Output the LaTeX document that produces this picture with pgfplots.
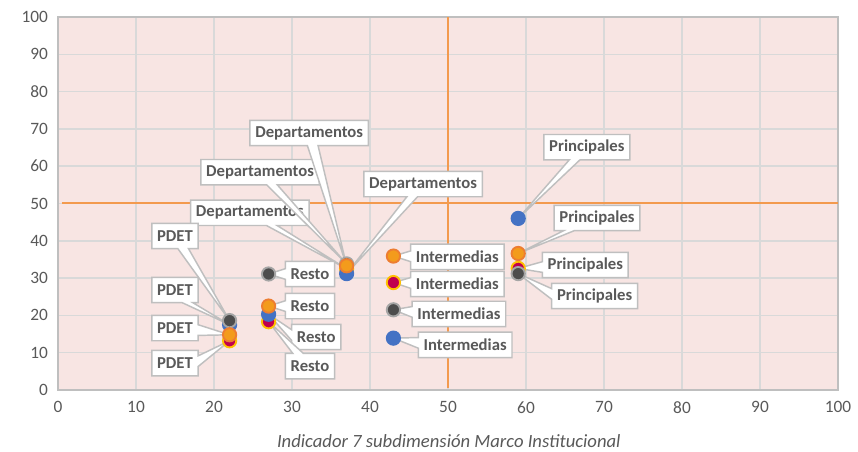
\documentclass[border=0pt]{standalone}
\usepackage{fontspec}
\setmainfont{Carlito}
\usepackage{pgfplots}
\pgfplotsset{compat=1.18}
\usetikzlibrary{shapes.callouts}
\definecolor{bgpink}{HTML}{F8E5E3}
\definecolor{gridgray}{HTML}{D9D9D9}
\definecolor{axgray}{HTML}{BFBFBF}
\definecolor{txtgray}{HTML}{595959}
\definecolor{refor}{HTML}{F39A4E}
\definecolor{sblue}{HTML}{4472C4}
\definecolor{sorange}{HTML}{F39B1C}
\definecolor{sorangeb}{HTML}{ED7D31}
\definecolor{sred}{HTML}{C0004E}
\definecolor{sredb}{HTML}{FFC000}
\definecolor{sgray}{HTML}{4D4D4D}
\definecolor{sgrayb}{HTML}{A5A5A5}
\begin{document}
\begin{tikzpicture}[
  lbl/.style={rectangle callout, draw=axgray, line width=1.1pt, fill=white,
    text=txtgray, font=\fontsize{12.5}{14}\selectfont\bfseries,
    inner xsep=4pt, inner ysep=3pt, minimum height=19pt,
    callout pointer width=8pt}
]
\begin{axis}[
  scale only axis, width=585pt, height=279.75pt,
  xmin=0, xmax=100, ymin=0, ymax=100,
  xtick={0,10,...,100}, ytick={0,10,...,100},
  grid=major,
  major grid style={color=gridgray, line width=1.1pt},
  axis line style={color=axgray, line width=1.3pt},
  tick style={draw=none},
  axis background/.style={fill=bgpink},
  ticklabel style={font=\fontsize{13}{15}\selectfont, text=txtgray},
  xticklabel style={yshift=-5pt},
  yticklabel style={xshift=-4pt},
  /pgf/number format/assume math mode=true,
  xlabel={Indicador 7 subdimensión Marco Institucional},
  xlabel style={at={(axis description cs:0.501,0)}, anchor=center, yshift=-38pt,
    font=\fontsize{14}{16}\selectfont\itshape, text=txtgray},
  clip=false,
]
% reference lines
\addplot[refor, line width=1.5pt] coordinates {(0.5,50) (100,50)};
\addplot[refor, line width=1.5pt] coordinates {(50,0.5) (50,100)};

% series: PDET, Resto, Departamentos, Intermedias, Principales
\addplot[only marks, mark=*, mark size=5pt,
  mark options={fill=sred, draw=sredb, line width=1.4pt}]
  coordinates {(22,13.2) (27,18.3) (37,32.5) (43,28.8) (59,32.6)};
\addplot[only marks, mark=*, mark size=5pt,
  mark options={fill=sblue, draw=sblue, line width=1.4pt}]
  coordinates {(22,17.5) (27,20.3) (37,31.2) (43,13.9) (59,46.0)};
\addplot[only marks, mark=*, mark size=5pt,
  mark options={fill=sgray, draw=sgrayb, line width=1.4pt}]
  coordinates {(22,18.6) (27,31.1) (37,33.8) (43,21.5) (59,31.2)};
\addplot[only marks, mark=*, mark size=5pt,
  mark options={fill=sorange, draw=sorangeb, line width=1.4pt}]
  coordinates {(22,14.8) (27,22.5) (37,33.3) (43,35.9) (59,36.6)};

% data labels
\node[lbl, callout absolute pointer={(axis cs:37,32.5)}] at (axis cs:24.6,47.5) {Departamentos};
\node[lbl, callout absolute pointer={(axis cs:37,33.8)}] at (axis cs:25.9,58.4) {Departamentos};
\node[lbl, callout absolute pointer={(axis cs:37,33.3)}] at (axis cs:32.2,68.9) {Departamentos};
\node[lbl, callout absolute pointer={(axis cs:37,31.2)}] at (axis cs:46.8,55.2) {Departamentos};

\node[lbl, callout absolute pointer={(axis cs:22,18.6)}] at (axis cs:15,41.3) {PDET};
\node[lbl, callout absolute pointer={(axis cs:22,17.5)}] at (axis cs:15,26.8) {PDET};
\node[lbl, callout absolute pointer={(axis cs:22,14.8)}] at (axis cs:15,16.6) {PDET};
\node[lbl, callout absolute pointer={(axis cs:22,13.2)}] at (axis cs:15,7.2) {PDET};

\node[lbl, callout absolute pointer={(axis cs:27,31.1)}] at (axis cs:32.3,31.1) {Resto};
\node[lbl, callout absolute pointer={(axis cs:27,22.5)}] at (axis cs:32.3,22.5) {Resto};
\node[lbl, callout absolute pointer={(axis cs:27,20.3)}] at (axis cs:33.1,14.2) {Resto};
\node[lbl, callout absolute pointer={(axis cs:27,18.3)}] at (axis cs:32.3,6.4) {Resto};

\node[lbl, callout absolute pointer={(axis cs:43,35.9)}] at (axis cs:51.2,35.7) {Intermedias};
\node[lbl, callout absolute pointer={(axis cs:43,28.8)}] at (axis cs:51.2,28.4) {Intermedias};
\node[lbl, callout absolute pointer={(axis cs:43,21.5)}] at (axis cs:51.4,20.4) {Intermedias};
\node[lbl, callout absolute pointer={(axis cs:43,13.9)}] at (axis cs:52.2,12.1) {Intermedias};

\node[lbl, callout absolute pointer={(axis cs:59,46.0)}] at (axis cs:67.8,65.1) {Principales};
\node[lbl, callout absolute pointer={(axis cs:59,36.6)}] at (axis cs:69.1,46.1) {Principales};
\node[lbl, callout absolute pointer={(axis cs:59,32.6)}] at (axis cs:67.6,33.5) {Principales};
\node[lbl, callout absolute pointer={(axis cs:59,31.2)}] at (axis cs:68.8,25.2) {Principales};
\end{axis}
\pgfresetboundingbox
\path (current axis.south west) ++(-43.5pt,-46.5pt) rectangle ([shift={(15pt,12.75pt)}]current axis.north east);
\end{tikzpicture}
\end{document}
